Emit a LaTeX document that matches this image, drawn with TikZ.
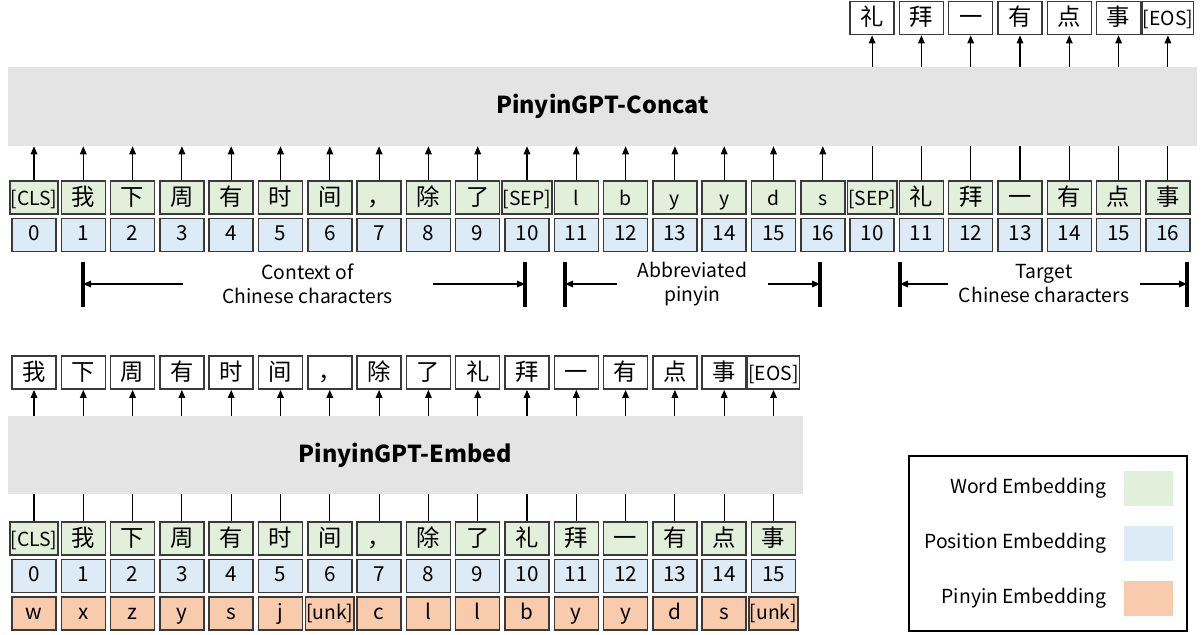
\documentclass[tikz,border=0pt]{standalone}
\usepackage{fontspec}
\setmainfont{Noto Sans CJK SC}
\usepackage{tikz}
\usetikzlibrary{positioning}
\usetikzlibrary{arrows.meta}

\definecolor{WordGreen}{HTML}{E2EFDA}
\definecolor{PosBlue}{HTML}{DDEBF7}
\definecolor{PinyinOrange}{HTML}{F8CBAD}
\definecolor{ModelGray}{HTML}{E4E4E4}
\definecolor{BoxLine}{HTML}{3A3A3A}

% Latin tokens are set a bit smaller than the Chinese characters
\newcommand{\smalltok}{\fontsize{14.5}{14.5}\selectfont}

\tikzset{
	tok/.style={draw=BoxLine, line width=1.1pt, minimum width=33pt, minimum height=25pt, inner xsep=0.5pt, inner ysep=1pt},
	wordtok/.style={tok, fill=WordGreen, font=\fontsize{17.5}{17.5}\selectfont, text height=13.5pt, text depth=1.5pt},
	postok/.style={tok, fill=PosBlue, font=\fontsize{15.5}{15.5}\selectfont, text height=11pt, text depth=2.5pt},
	pinyintok/.style={tok, fill=PinyinOrange, font=\fontsize{15.5}{15.5}\selectfont, text height=11pt, text depth=2.5pt},
	outtok/.style={tok, fill=white, font=\fontsize{17.5}{17.5}\selectfont, text height=13.5pt, text depth=1.5pt},
	model/.style={fill=ModelGray, inner sep=0pt, font=\fontsize{17.5}{20}\selectfont\bfseries},
	flow/.style={line width=0.8pt, draw=black},
	flowarr/.style={flow, -{Triangle[length=6pt,width=5pt]}},
	spanbar/.style={line width=2.4pt, draw=black},
	spanlabel/.style={align=center, inner sep=0pt, font=\fontsize{14.5}{18}\selectfont},
	swatch/.style={minimum width=36.75pt, minimum height=26.25pt, inner sep=0pt},
	legendlabel/.style={inner sep=0pt, font=\fontsize{14.5}{15}\selectfont},
}

\begin{document}
\begin{tikzpicture}[x=0.75pt, y=-0.75pt]

	% ------------------------------------------------
	% Size of the whole graphic
	\useasboundingbox (0,0) rectangle (1203,635);

	%%%%%%%%%%%%%%%%%%%%%%%%%%%%%%%%%%%%%%%%%
	% PinyinGPT-Concat

	% ----------------
	% Model block
	\node[model, minimum width=891.75pt, minimum height=59.25pt] (concat) at (602.5,106.5) {PinyinGPT-Concat};

	% ----------------
	% Input tokens and positions
	\foreach \t [count=\i from 0] in {{\smalltok [CLS]},我,下,周,有,时,间,，,除,了,{\smalltok [SEP]},{\smalltok l},{\smalltok b},{\smalltok y},{\smalltok y},{\smalltok d},{\smalltok s},{\smalltok [SEP]},礼,拜,一,有,点,事}
		\node[wordtok] (cw\i) at ({34+49.3*\i},197.5) {\t};
	\foreach \p [count=\i from 0] in {0,1,2,3,4,5,6,7,8,9,10,11,12,13,14,15,16,10,11,12,13,14,15,16}
		\node[postok, below=2pt of cw\i] (cp\i) {\p};

	% ----------------
	% Predicted characters
	\foreach \t [count=\i from 17] in {礼,拜,一,有,点,事,{\smalltok [EOS]}}
		\node[outtok] (co\i) at ({34+49.3*\i},18) {\t};

	% ----------------
	% Connections
	\foreach \i in {0,...,16}
		\draw[flowarr] (cw\i.north) -- (cw\i.north |- concat.south);
	\foreach \i in {17,...,23}{
		\draw[flow] (cw\i.north) -- (cw\i.north |- concat.south);
		\draw[flowarr] (co\i.south |- concat.north) -- (co\i.south);
	}

	% ----------------
	% Spans below the inputs
	\path (83,284)   coordinate (CtxBeg);
	\path (525,284)  coordinate (CtxEnd);
	\path (565,284)  coordinate (AbbBeg);
	\path (820,284)  coordinate (AbbEnd);
	\path (900,284)  coordinate (TgtBeg);
	\path (1187,284) coordinate (TgtEnd);

	\path (CtxBeg) +(100,0) coordinate (CtxBegTail);
	\path (CtxEnd) +(-92,0) coordinate (CtxEndTail);
	\path (AbbBeg) +(52,0)  coordinate (AbbBegTail);
	\path (AbbEnd) +(-52,0) coordinate (AbbEndTail);
	\path (TgtBeg) +(48,0)  coordinate (TgtBegTail);
	\path (TgtEnd) +(-47,0) coordinate (TgtEndTail);

	\node[spanlabel] (CtxText) at (307.5,284) {Context of\\Chinese characters};
	\node[spanlabel] (AbbText) at (692.5,284) {Abbreviated\\pinyin};
	\node[spanlabel] (TgtText) at (1044,284) {Target\\Chinese characters};

	\foreach \c in {CtxBeg,CtxEnd,AbbBeg,AbbEnd,TgtBeg,TgtEnd}
		\draw[spanbar] (\c) +(0,-22) -- +(0,23);

	\draw[flowarr] (CtxBegTail) -- (CtxBeg);
	\draw[flowarr] (CtxEndTail) -- (CtxEnd);
	\draw[flowarr] (AbbBegTail) -- (AbbBeg);
	\draw[flowarr] (AbbEndTail) -- (AbbEnd);
	\draw[flowarr] (TgtBegTail) -- (TgtBeg);
	\draw[flowarr] (TgtEndTail) -- (TgtEnd);

	%%%%%%%%%%%%%%%%%%%%%%%%%%%%%%%%%%%%%%%%%
	% PinyinGPT-Embed

	% ----------------
	% Model block
	\node[model, minimum width=596.25pt, minimum height=58.5pt] (embed) at (405.5,455) {PinyinGPT-Embed};

	% ----------------
	% Input tokens, positions and pinyin
	\foreach \t [count=\i from 0] in {{\smalltok [CLS]},我,下,周,有,时,间,，,除,了,礼,拜,一,有,点,事}
		\node[wordtok] (ew\i) at ({34+49.3*\i},538.5) {\t};
	\foreach \i in {0,...,15}
		\node[postok, below=2pt of ew\i] (ep\i) {\i};
	\foreach \t [count=\i from 0] in {w,x,z,y,s,j,{\smalltok [unk]},c,l,l,b,y,y,d,s,{\smalltok [unk]}}
		\node[pinyintok, below=2pt of ep\i] (ey\i) {\t};

	% ----------------
	% Predicted characters
	\foreach \t [count=\i from 0] in {我,下,周,有,时,间,，,除,了,礼,拜,一,有,点,事,{\smalltok [EOS]}}
		\node[outtok] (eo\i) at ({34+49.3*\i},372.5) {\t};

	% ----------------
	% Connections
	\foreach \i in {0,...,15}{
		\draw[flow] (ew\i.north) -- (ew\i.north |- embed.south);
		\draw[flowarr] (eo\i.south |- embed.north) -- (eo\i.south);
	}

	%%%%%%%%%%%%%%%%%%%%%%%%%%%%%%%%%%%%%%%%%
	% Legend
	\node[draw=black, line width=0.8pt, minimum width=208.5pt, minimum height=131.25pt] (legend) at (1048,543.5) {};

	\node[swatch, fill=WordGreen]    (SwWord)   at (1148.5,488.5) {};
	\node[swatch, fill=PosBlue]      (SwPos)    at (1148.5,543.5) {};
	\node[swatch, fill=PinyinOrange] (SwPinyin) at (1148.5,598.5) {};

	\node[legendlabel, left=12.75pt of SwWord]   (LbWord)   {Word Embedding};
	\node[legendlabel, left=12.75pt of SwPos]    (LbPos)    {Position Embedding};
	\node[legendlabel, left=12.75pt of SwPinyin] (LbPinyin) {Pinyin Embedding};

\end{tikzpicture}
\end{document}
